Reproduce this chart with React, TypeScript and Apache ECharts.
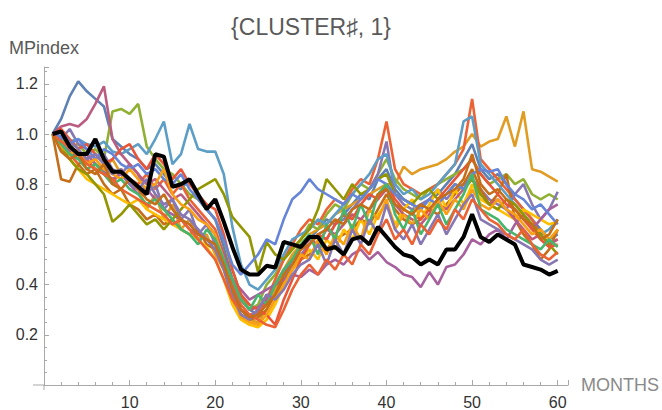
import React, { useEffect, useRef } from "react";
import * as echarts from "echarts";

const MONTHS = [
  1, 2, 3, 4, 5, 6, 7, 8, 9, 10, 11, 12, 13, 14, 15, 16, 17, 18, 19, 20,
  21, 22, 23, 24, 25, 26, 27, 28, 29, 30, 31, 32, 33, 34, 35, 36, 37, 38, 39, 40,
  41, 42, 43, 44, 45, 46, 47, 48, 49, 50, 51, 52, 53, 54, 55, 56, 57, 58, 59, 60,
];

const sA = [1.00,1.06,1.15,1.21,1.17,1.14,1.11,0.98,0.95,0.92, 0.90,0.86,0.88,0.84,0.80,0.78,0.82,0.74,0.70,0.66, 0.55,0.42,0.34,0.30,0.28,0.33,0.36,0.44,0.50,0.55, 0.58,0.62,0.66,0.64,0.68,0.72,0.76,0.74,0.82,0.86, 0.78,0.74,0.72,0.70,0.74,0.76,0.80,0.84,0.90,0.96, 0.86,0.82,0.84,0.80,0.74,0.70,0.66,0.62,0.58,0.60];
const sB = [1.00,0.97,0.94,0.90,0.92,0.88,0.86,0.90,0.84,0.80, 0.78,0.70,0.76,0.66,0.72,0.62,0.66,0.58,0.60,0.52, 0.46,0.38,0.30,0.26,0.25,0.30,0.38,0.46,0.52,0.56, 0.60,0.62,0.64,0.68,0.70,0.72,0.74,0.76,0.78,0.80, 0.80,0.87,0.84,0.86,0.87,0.88,0.90,0.93,0.95,1.00, 0.95,0.97,0.98,1.07,0.95,1.09,0.86,0.85,0.83,0.81];
const sC = [1.00,0.98,0.95,0.96,0.92,0.94,0.90,1.09,1.10,1.08, 1.12,0.95,0.90,0.86,0.84,0.80,0.76,0.74,0.70,0.66, 0.58,0.46,0.36,0.30,0.32,0.40,0.44,0.50,0.54,0.58, 0.64,0.62,0.68,0.72,0.70,0.76,0.80,0.78,0.84,0.90, 0.82,0.78,0.76,0.74,0.78,0.80,0.82,0.84,0.86,0.90, 0.84,0.80,0.82,0.84,0.80,0.82,0.76,0.74,0.76,0.74];
const sD = [1.00,0.96,0.92,0.88,0.90,0.86,0.84,0.80,0.86,0.82, 0.80,0.84,0.78,0.82,0.76,0.80,0.74,0.70,0.66,0.62, 0.52,0.40,0.32,0.28,0.29,0.34,0.42,0.50,0.56,0.62, 0.66,0.64,0.70,0.74,0.72,0.78,0.82,0.80,0.90,1.05, 0.86,0.80,0.78,0.76,0.78,0.80,0.84,0.88,0.94,1.14, 0.90,0.86,0.82,0.78,0.74,0.70,0.66,0.60,0.56,0.58];
const sE = [1.00,0.98,1.02,0.96,0.94,0.90,0.92,0.86,0.84,0.88, 0.84,0.76,0.80,0.70,0.74,0.66,0.70,0.60,0.64,0.56, 0.48,0.38,0.30,0.27,0.30,0.36,0.34,0.42,0.48,0.52, 0.56,0.60,0.58,0.64,0.66,0.70,0.74,0.78,0.84,0.97, 0.76,0.72,0.70,0.72,0.74,0.78,0.74,0.78,0.80,0.82, 0.78,0.74,0.72,0.70,0.76,0.80,0.72,0.66,0.70,0.77];
const sF = [1.00,0.82,0.81,0.88,0.84,0.86,0.80,0.76,0.78,0.72, 0.70,0.66,0.68,0.64,0.66,0.62,0.60,0.62,0.56,0.54, 0.46,0.34,0.28,0.26,0.27,0.30,0.36,0.42,0.46,0.50, 0.52,0.56,0.54,0.58,0.60,0.62,0.66,0.64,0.70,0.76, 0.70,0.66,0.64,0.66,0.70,0.68,0.72,0.76,0.80,0.86, 0.78,0.72,0.76,0.84,0.66,0.60,0.56,0.50,0.54,0.62];
const sG = [1.00,0.99,0.97,0.98,0.96,0.95,0.97,0.93,0.92,0.94, 0.96,0.92,0.98,1.05,0.88,0.92,1.04,0.94,0.93,0.93, 0.84,0.63,0.48,0.40,0.38,0.42,0.46,0.52,0.58,0.60, 0.62,0.66,0.64,0.68,0.72,0.76,0.80,0.84,0.90,0.92, 0.80,0.76,0.78,0.74,0.76,0.80,0.84,0.88,1.05,1.07, 0.88,0.84,0.80,0.76,0.72,0.68,0.64,0.60,0.62,0.66];
const sH = [1.00,0.94,0.90,0.86,0.82,0.80,0.78,0.76,0.74,0.72, 0.74,0.70,0.68,0.66,0.64,0.62,0.60,0.58,0.55,0.50, 0.42,0.32,0.26,0.24,0.23,0.26,0.32,0.40,0.46,0.50, 0.54,0.50,0.58,0.54,0.62,0.58,0.66,0.60,0.68,0.72, 0.64,0.70,0.74,0.66,0.72,0.78,0.70,0.78,0.72,0.80, 0.74,0.72,0.70,0.68,0.66,0.70,0.68,0.66,0.64,0.65];
const sI = [1.00,1.03,1.04,1.03,1.06,1.12,1.19,0.98,0.92,0.88, 0.84,0.80,0.82,0.78,0.74,0.76,0.72,0.68,0.64,0.60, 0.52,0.42,0.34,0.30,0.31,0.34,0.40,0.46,0.50,0.54, 0.58,0.56,0.62,0.60,0.64,0.68,0.66,0.70,0.74,0.78, 0.72,0.68,0.66,0.64,0.68,0.72,0.70,0.74,0.78,0.82, 0.76,0.72,0.74,0.70,0.66,0.62,0.58,0.60,0.56,0.58];
const sJ = [1.00,0.96,0.93,0.90,0.92,0.88,0.85,0.82,0.84,0.80, 0.76,0.78,0.74,0.70,0.68,0.66,0.62,0.60,0.58,0.56, 0.50,0.42,0.38,0.34,0.36,0.38,0.40,0.42,0.44,0.43, 0.46,0.44,0.48,0.50,0.48,0.52,0.54,0.50,0.53,0.49, 0.47,0.44,0.43,0.39,0.45,0.40,0.47,0.48,0.52,0.58, 0.56,0.60,0.62,0.58,0.64,0.68,0.62,0.66,0.70,0.72];
const sK = [1.00,0.95,0.90,0.86,0.84,0.80,0.76,0.65,0.68,0.72, 0.68,0.64,0.66,0.62,0.66,0.70,0.74,0.78,0.80,0.82, 0.76,0.67,0.63,0.59,0.45,0.57,0.52,0.50,0.54,0.58, 0.62,0.70,0.82,0.78,0.74,0.80,0.76,0.78,0.82,0.84, 0.76,0.74,0.72,0.76,0.78,0.74,0.76,0.80,0.78,0.82, 0.76,0.72,0.70,0.74,0.72,0.68,0.64,0.60,0.56,0.52];
const sL = [1.00,1.02,0.98,0.94,0.96,0.92,0.88,0.90,0.94,0.96, 0.90,0.86,0.92,0.88,0.82,0.86,0.80,0.76,0.72,0.70, 0.60,0.46,0.36,0.32,0.30,0.28,0.24,0.34,0.42,0.50, 0.56,0.60,0.58,0.64,0.68,0.66,0.72,0.76,0.74,0.80, 0.74,0.70,0.68,0.66,0.70,0.74,0.78,0.82,0.86,0.90, 0.84,0.80,0.76,0.72,0.70,0.66,0.62,0.58,0.55,0.56];
const sM = [1.00,0.99,0.96,0.98,0.94,0.90,0.94,0.92,0.88,0.86, 0.88,0.84,0.86,0.82,0.80,0.84,0.78,0.74,0.70,0.66, 0.58,0.48,0.44,0.48,0.52,0.58,0.56,0.66,0.74,0.77, 0.82,0.78,0.76,0.74,0.72,0.76,0.74,0.78,0.82,0.80, 0.76,0.74,0.72,0.70,0.74,0.72,0.76,0.80,0.78,0.84, 0.86,0.85,0.86,0.80,0.76,0.74,0.70,0.72,0.68,0.64];
const sN = [1.00,0.95,0.92,0.94,0.88,0.90,0.86,0.84,0.82,0.86, 0.82,0.78,0.80,0.86,0.76,0.72,0.70,0.66,0.64,0.60, 0.50,0.36,0.27,0.25,0.24,0.28,0.34,0.40,0.46,0.52, 0.50,0.58,0.52,0.60,0.56,0.64,0.58,0.70,0.66,0.74, 0.62,0.68,0.64,0.70,0.66,0.74,0.68,0.74,0.70,0.78, 0.72,0.70,0.74,0.70,0.68,0.64,0.60,0.62,0.58,0.62];
const sO = [1.00,0.96,0.92,0.90,0.86,0.88,0.84,0.80,0.82,0.78, 0.76,0.72,0.74,0.70,0.66,0.62,0.60,0.56,0.62,0.58, 0.50,0.42,0.34,0.30,0.36,0.32,0.40,0.46,0.50,0.56, 0.60,0.52,0.64,0.58,0.70,0.62,0.72,0.64,0.76,0.80, 0.68,0.62,0.70,0.60,0.66,0.72,0.64,0.70,0.76,0.84, 0.70,0.68,0.66,0.62,0.60,0.58,0.56,0.54,0.58,0.55];
const sP = [1.00,1.01,0.97,0.94,0.90,0.92,0.88,0.84,0.86,0.80, 0.78,0.82,0.76,0.72,0.74,0.68,0.66,0.62,0.58,0.54, 0.46,0.36,0.28,0.26,0.30,0.36,0.34,0.38,0.44,0.48, 0.50,0.56,0.48,0.58,0.52,0.62,0.56,0.66,0.60,0.72, 0.62,0.58,0.64,0.56,0.62,0.68,0.60,0.66,0.72,0.76, 0.66,0.64,0.62,0.60,0.58,0.56,0.54,0.50,0.48,0.50];
const sQ = [1.00,0.97,0.95,0.92,0.88,0.86,0.84,0.82,0.78,0.76, 0.74,0.72,0.70,0.68,0.64,0.66,0.62,0.58,0.54,0.50, 0.42,0.34,0.30,0.28,0.26,0.24,0.23,0.30,0.38,0.44, 0.48,0.44,0.50,0.46,0.52,0.48,0.56,0.52,0.60,0.66, 0.58,0.62,0.56,0.64,0.60,0.66,0.62,0.70,0.66,0.74, 0.70,0.66,0.64,0.60,0.58,0.62,0.56,0.52,0.50,0.53];
const sR = [1.00,0.93,0.90,0.92,0.86,0.84,0.88,0.80,0.78,0.82, 0.78,0.74,0.72,0.76,0.70,0.66,0.64,0.60,0.58,0.56, 0.48,0.38,0.30,0.27,0.28,0.32,0.36,0.44,0.48,0.54, 0.56,0.60,0.62,0.66,0.64,0.70,0.72,0.70,0.76,0.78, 0.72,0.70,0.68,0.72,0.70,0.74,0.76,0.78,0.82,0.92, 0.80,0.76,0.78,0.74,0.70,0.66,0.64,0.58,0.60,0.66];

const CLUSTER_MEAN = [1.00,1.01,0.95,0.92,0.92,0.98,0.90,0.85,0.85,0.82, 0.79,0.76,0.92,0.91,0.79,0.80,0.82,0.76,0.70,0.74, 0.65,0.55,0.46,0.44,0.44,0.475,0.468,0.57,0.56,0.55, 0.59,0.59,0.54,0.55,0.52,0.58,0.59,0.56,0.63,0.59, 0.55,0.52,0.51,0.48,0.50,0.48,0.54,0.54,0.59,0.68, 0.59,0.57,0.60,0.58,0.56,0.48,0.47,0.46,0.44,0.455];

const MEMBERS = [sA, sB, sC, sD, sE, sF, sG, sH, sI, sJ, sK, sL, sM, sN, sO, sP, sQ, sR];
const COLORS = ["#5E81B5","#E19C24","#8FB032","#EB6235","#8778B3","#C56E1A","#5D9EC7","#FFBF00","#BC5B80","#A5609D","#929600","#E95536","#6685D9","#F89F13","#47B66D","#8778B3","#EB6235","#C56E1A"];

const X_TICKS = [10, 20, 30, 40, 50, 60];
const Y_TICKS = [0.2, 0.4, 0.6, 0.8, 1.0, 1.2];

const FONT = "Liberation Sans, Arial, sans-serif";
const AXIS_GRAY = "#a8a8a8";

export default function App() {
  const ref = useRef<HTMLDivElement>(null);
  useEffect(() => {
    if (!ref.current) return;
    const chart = echarts.init(ref.current, undefined, { renderer: "svg" });
    const toPts = (arr: number[]) => MONTHS.map((m, i) => [m, arr[i]]);
    const series: any[] = MEMBERS.map((arr, k) => ({
      type: "line",
      data: toPts(arr),
      showSymbol: false,
      symbol: "none",
      lineStyle: { color: COLORS[k], width: 2.6 },
      z: 2,
      silent: true,
    }));
    series.push({
      type: "line",
      data: toPts(CLUSTER_MEAN),
      showSymbol: false,
      symbol: "none",
      lineStyle: { color: "#000", width: 4 },
      z: 3,
      silent: true,
    });
    chart.setOption({
      animation: false,
      title: {
        text: "{CLUSTER\u266F, 1}",
        left: 306,
        top: 10,
        textAlign: "center",
        textStyle: { fontFamily: FONT, fontSize: 23, fontWeight: "normal", color: "#595959" },
      },
      grid: { left: 44, right: 92, top: 67, bottom: 20 },
      xAxis: {
        type: "value",
        min: 0,
        max: 61.2,
        interval: 10,
        name: "MONTHS",
        nameLocation: "end",
        nameGap: 13,
        nameTextStyle: { fontFamily: FONT, fontSize: 18, color: "#8a8a8a", verticalAlign: "middle", align: "left" },
        axisLine: { show: true, lineStyle: { color: AXIS_GRAY, width: 1 } },
        axisTick: { show: true, inside: true, length: 5, lineStyle: { color: AXIS_GRAY } },
        minorTick: { show: true, splitNumber: 5, length: 3, lineStyle: { color: AXIS_GRAY } },
        splitLine: { show: false },
        axisLabel: {
          fontFamily: FONT,
          fontSize: 16,
          color: "#333",
          margin: 9,
          formatter: (v: number) => (X_TICKS.includes(v) ? String(v) : ""),
        },
      },
      yAxis: {
        type: "value",
        min: 0,
        max: 1.267,
        interval: 0.2,
        name: "MPindex",
        nameLocation: "end",
        nameGap: 10,
        nameTextStyle: { fontFamily: FONT, fontSize: 18, color: "#595959" },
        axisLine: { show: true, lineStyle: { color: AXIS_GRAY, width: 1 } },
        axisTick: { show: true, inside: true, length: 5, lineStyle: { color: AXIS_GRAY } },
        minorTick: { show: true, splitNumber: 4, length: 3, lineStyle: { color: AXIS_GRAY } },
        splitLine: { show: false },
        axisLabel: {
          fontFamily: FONT,
          fontSize: 16,
          color: "#333",
          margin: 6,
          formatter: (v: number) => {
            const hit = Y_TICKS.find((t) => Math.abs(t - v) < 1e-6);
            return hit === undefined ? "" : hit.toFixed(1);
          },
        },
      },
      series,
    });
    const o = chart.convertToPixel({ gridIndex: 0 }, [0, 0]) as number[];
    chart.setOption({
      graphic: [
        { type: "line", shape: { x1: o[0] - 11, y1: o[1], x2: o[0], y2: o[1] }, style: { stroke: AXIS_GRAY, lineWidth: 1 } },
        { type: "line", shape: { x1: o[0], y1: o[1], x2: o[0], y2: o[1] + 5 }, style: { stroke: AXIS_GRAY, lineWidth: 1 } },
      ],
    });
    return () => chart.dispose();
  }, []);
  return (
    <div
      ref={ref}
      style={{ position: "fixed", left: 0, top: 0, width: 662, height: 410, background: "#fff" }}
    />
  );
}
